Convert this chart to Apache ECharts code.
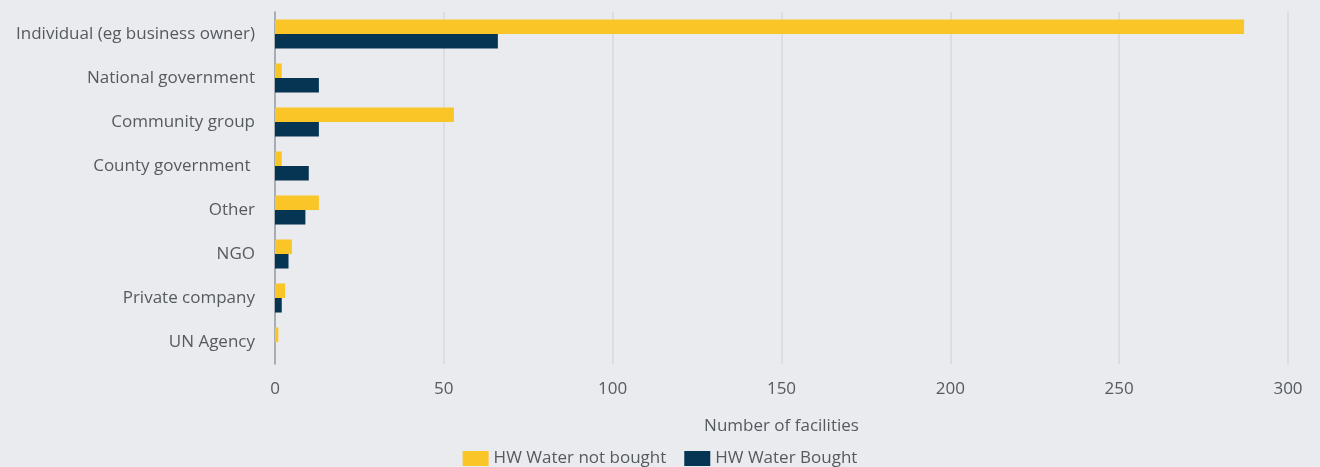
<!DOCTYPE html>
<html>
<head>
<meta charset="utf-8">
<script src="https://cdn.jsdelivr.net/npm/echarts@6/dist/echarts.min.js"></script>
<style>
  html, body { margin: 0; padding: 0; background: #E9EBEF; }
  #chart { width: 1320px; height: 467px; }
</style>
</head>
<body>
<div id="chart"></div>
<script>
// Water-source owner categories, top to bottom
const categories = [
  'Individual (eg business owner)',
  'National government',
  'Community group',
  'County government ',
  'Other',
  'NGO',
  'Private company',
  'UN Agency'
];
const notBought = [287, 2, 53, 2, 13, 5, 3, 1];
const bought = [66, 13, 13, 10, 9, 4, 2, 0];
const xTicks = [0, 50, 100, 150, 200, 250, 300];

const FONT = 'Open Sans';
const TEXT = '#555a60';
const SIZE = 17;

const chart = echarts.init(document.getElementById('chart'));
chart.setOption({
  backgroundColor: '#E9EBEF',
  textStyle: { fontFamily: FONT },
  animation: false,
  grid: { left: 275, right: 32, top: 12, bottom: 103 },
  legend: {
    top: 445,
    left: 'center',
    itemWidth: 26,
    itemHeight: 15,
    itemGap: 18,
    itemStyle: { borderWidth: 0 },
    icon: 'rect',
    textStyle: { fontFamily: FONT, fontSize: SIZE, color: TEXT },
    data: ['HW Water not bought', 'HW Water Bought']
  },
  xAxis: {
    type: 'value',
    min: xTicks[0],
    max: xTicks[xTicks.length - 1],
    interval: 50,
    name: 'Number of facilities',
    nameLocation: 'middle',
    nameGap: 54,
    nameTextStyle: { fontFamily: FONT, fontSize: SIZE, color: TEXT },
    axisLine: { show: false },
    axisTick: { show: false },
    axisLabel: { fontFamily: FONT, fontSize: SIZE, color: TEXT, margin: 17 },
    splitLine: { lineStyle: { color: '#D6D8DC', width: 1.5 } }
  },
  yAxis: {
    type: 'category',
    inverse: true,
    data: categories,
    axisLine: { lineStyle: { color: '#999ca0', width: 1.5 } },
    axisTick: { show: false },
    axisLabel: { fontFamily: FONT, fontSize: SIZE, color: TEXT, margin: 20 }
  },
  series: [
    {
      name: 'HW Water not bought',
      type: 'bar',
      data: notBought,
      itemStyle: { color: '#FAC627' },
      barGap: '0%',
      barCategoryGap: '34%'
    },
    {
      name: 'HW Water Bought',
      type: 'bar',
      data: bought,
      itemStyle: { color: '#063554' },
      barGap: '0%',
      barCategoryGap: '34%'
    }
  ]
});
</script>
</body>
</html>
